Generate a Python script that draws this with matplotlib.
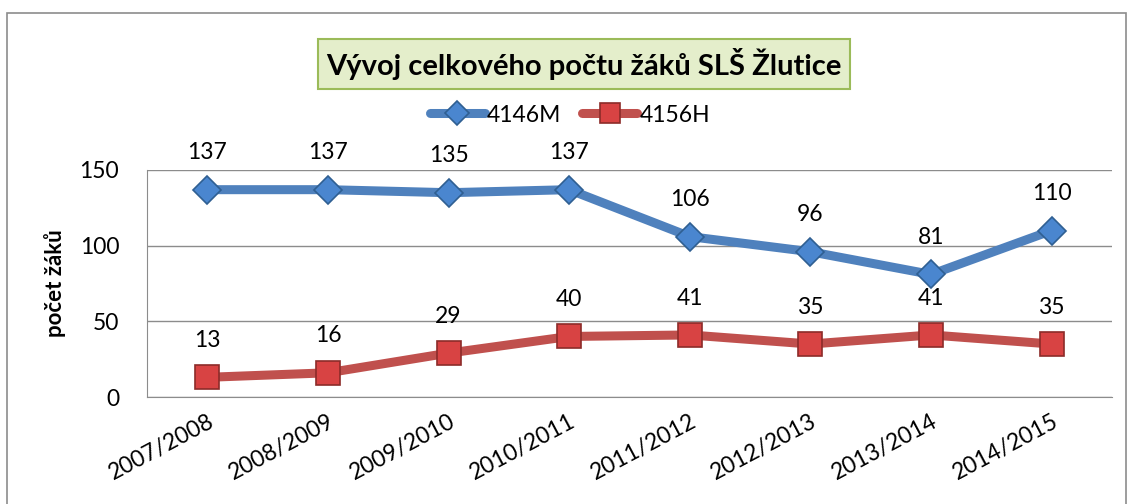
import matplotlib
matplotlib.use("Agg")
import matplotlib.pyplot as plt
from matplotlib.patches import Rectangle

plt.rcParams['font.family'] = ['Lato', 'DejaVu Sans']

# data
years = ["2007/2008", "2008/2009", "2009/2010", "2010/2011",
         "2011/2012", "2012/2013", "2013/2014", "2014/2015"]
m4146 = [137, 137, 135, 137, 106, 96, 81, 110]
h4156 = [13, 16, 29, 40, 41, 35, 41, 35]

title = "Vývoj celkového počtu žáků SLŠ Žlutice"
ylabel = "počet žáků"

W, H = 1129, 504
fig = plt.figure(figsize=(W / 100, H / 100), dpi=100)
ax = fig.add_axes([147 / W, 1 - 397 / H, (1112 - 147) / W, (397 - 170) / H])

x = list(range(len(years)))
ax.plot(x, m4146, color="#4F81BD", lw=6.5, marker="D", ms=14,
        mfc="#4A86CF", mec="#2F5F92", mew=1.2, label="4146M", zorder=3,
        solid_capstyle="round")
ax.plot(x, h4156, color="#C0504D", lw=6.5, marker="s", ms=17.5,
        mfc="#D84343", mec="#8C2B29", mew=1.2, label="4156H", zorder=3,
        solid_capstyle="round")

for xs, ys in ((x, m4146), (x, h4156)):
    for xi, yi in zip(xs, ys):
        ax.annotate(str(yi), (xi, yi), xytext=(0, 19), textcoords="offset points",
                    ha="center", va="bottom", fontsize=16.5)

ax.set_xlim(-0.5, len(years) - 0.5)
ax.set_ylim(0, 150)
ax.set_yticks([0, 50, 100, 150])
ax.yaxis.grid(True, color="#8C8C8C", lw=1)
ax.set_axisbelow(True)
for s in ("top", "right"):
    ax.spines[s].set_visible(False)
for s in ("left", "bottom"):
    ax.spines[s].set_color("#8C8C8C")
ax.tick_params(axis="both", length=0, labelsize=16.5)
ax.tick_params(axis="y", pad=20)
ax.set_xticks(x)
ax.set_xticklabels(years, rotation=28, ha="right", rotation_mode="anchor")
ax.tick_params(axis="x", pad=10)
ax.set_ylabel(ylabel, fontsize=16, fontweight="bold", labelpad=10)

# title box
fig.text(584 / W, 1 - 64 / H, title, ha="center", va="center", fontsize=21,
         fontweight="bold",
         bbox=dict(boxstyle="square,pad=0.3", facecolor="#E4EECB",
                   edgecolor="#9BBB59", lw=1.5))

fig.legend(loc="center", bbox_to_anchor=(570 / W, 1 - 115 / H), ncol=2,
           frameon=False, fontsize=16.5, handlelength=2.4, columnspacing=0.9,
           handletextpad=0.1, markerscale=0.85)

# chart border
fig.patches.append(Rectangle((7 / W, -0.02), (1126 - 7) / W, 1.02 - 13 / H,
                             transform=fig.transFigure, fill=False,
                             edgecolor="#8C8C8C", lw=1.2))

fig.savefig("out.png", dpi=100)
